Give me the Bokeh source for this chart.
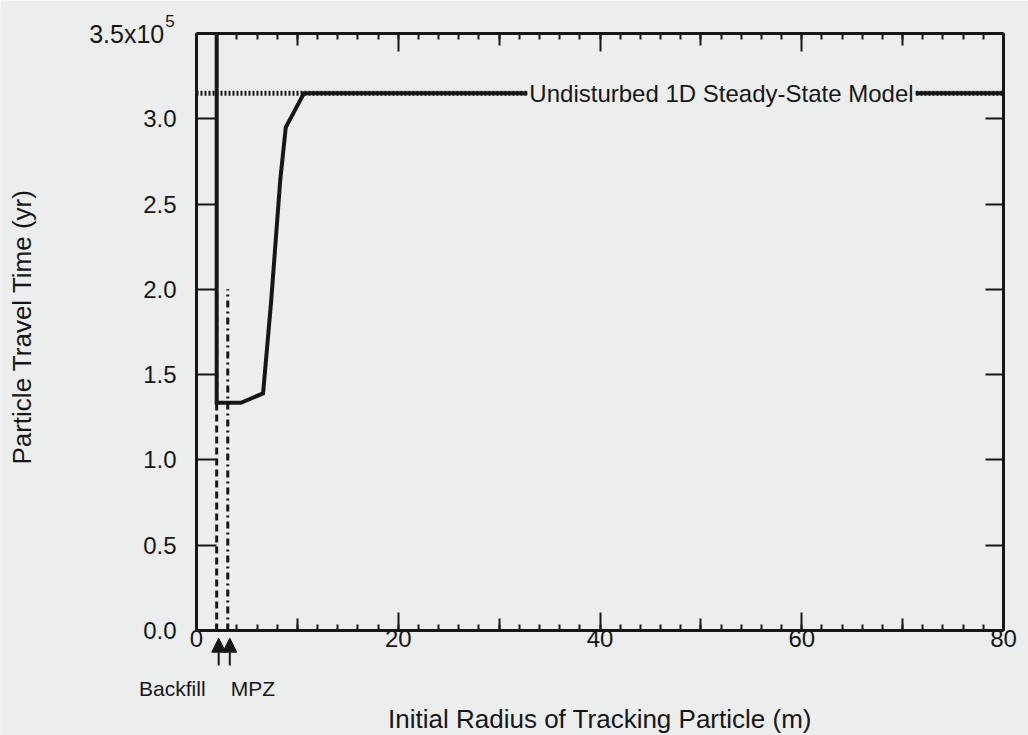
from bokeh.plotting import figure
from bokeh.models import Range1d, LinearAxis, FixedTicker, Label, Arrow, NormalHead
from bokeh.embed import file_html
from bokeh.resources import INLINE

# ---- data (travel time in units of 1e5 yr) ----
model_radius = [2.0, 2.0, 4.4, 6.6, 7.4, 8.3, 8.85, 10.65, 80.0]
model_time = [3.5, 1.335, 1.335, 1.39, 1.93, 2.64, 2.95, 3.15, 3.15]
steady_radius = [0.0, 80.0]
steady_time = [3.15, 3.15]
backfill_r = 2.0
mpz_r = 3.1
boundary_time = [0.0, 2.0]
x_ticks = [0, 20, 40, 60, 80]
x_mid_ticks = [10, 30, 50, 70]
x_minor = [float(v) for v in range(0, 81, 2)]
y_ticks = [0.0, 0.5, 1.0, 1.5, 2.0, 2.5, 3.0, 3.5]
y_tick_labels = ["0.0", "0.5", "1.0", "1.5", "2.0", "2.5", "3.0", ""]
y_top_label = "3.5x10"
y_top_exponent = "5"
steady_label = "Undisturbed 1D Steady-State Model"
x_title = "Initial Radius of Tracking Particle (m)"
y_title = "Particle Travel Time (yr)"

X0, X1, Y0, Y1 = 0.0, 80.0, 0.0, 3.5

BG = "#eceeee"
INK = "#161616"
FONT = "Liberation Sans"

# The frame fills the page; the axes are pinned at the data box so that
# the notes outside it (titles, arrows) can be drawn in data space.
p = figure(width=1028, height=735, output_backend="svg", toolbar_location=None,
           x_range=Range1d(-19.43, 82.478), y_range=Range1d(-0.6156, 3.6935),
           x_axis_location=None, y_axis_location=None,
           min_border=0, min_border_left=0, min_border_right=0,
           min_border_top=0, min_border_bottom=0,
           background_fill_color=BG, border_fill_color=BG)
p.grid.visible = False
p.outline_line_color = None

def make_axis(fixed, ticks, minor, major_in, minor_in, bounds, labels=None, line=True):
    ax = LinearAxis(fixed_location=fixed, bounds=bounds)
    ax.ticker = FixedTicker(ticks=ticks, minor_ticks=minor)
    ax.axis_line_color = INK if line else None
    ax.axis_line_width = 3
    ax.major_tick_in = major_in
    ax.major_tick_out = 0
    ax.minor_tick_in = minor_in
    ax.minor_tick_out = 0
    ax.major_tick_line_width = 2
    ax.minor_tick_line_width = 2
    ax.major_tick_line_color = INK
    ax.minor_tick_line_color = INK
    ax.major_label_text_font = FONT
    ax.major_label_text_color = INK
    ax.major_label_text_font_size = "24px"
    if labels is False:
        ax.major_label_text_alpha = 0
        ax.major_label_text_font_size = "1px"
        ax.major_label_standoff = 0
    elif labels is not None:
        ax.major_label_overrides = labels
    return ax

xa = make_axis(Y0, x_ticks, x_minor, 18, 6, (X0, X1))
xa.major_label_standoff = 0
p.add_layout(xa, "below")
p.add_layout(make_axis(Y0, x_mid_ticks, [], 12, 0, (X0, X1), labels=False, line=False), "below")

ya = make_axis(X0, y_ticks, [], 20, 0, (Y0, Y1),
               labels={t: s for t, s in zip(y_ticks, y_tick_labels)})
ya.major_label_standoff = 20
p.add_layout(ya, "left")

p.add_layout(make_axis(Y1, x_ticks, x_minor, 18, 6, (X0, X1), labels=False), "above")
p.add_layout(make_axis(Y1, x_mid_ticks, [], 12, 0, (X0, X1), labels=False, line=False), "above")
p.add_layout(make_axis(X1, y_ticks, [], 18, 0, (Y0, Y1), labels=False), "right")

# boundary reference lines
p.line([backfill_r, backfill_r], boundary_time, line_color=INK, line_width=3, line_dash="7 4")
p.line([mpz_r, mpz_r], boundary_time, line_color=INK, line_width=3, line_dash="7 4 2 4")

# simulated travel-time curve
p.line(model_radius, model_time, line_color=INK, line_width=4, line_join="miter")

# undisturbed steady-state model (dotted)
p.line(steady_radius, steady_time, line_color=INK, line_width=5, line_dash="2 2")

p.add_layout(Label(x=32.8, y=steady_time[0], text=steady_label, text_align="left",
                   text_baseline="middle", text_font=FONT, text_font_size="24px",
                   text_color=INK, background_fill_color=BG, padding=2))

# top tick label with exponent
p.add_layout(Label(x=-3.2, y=Y1, text=y_top_label, text_align="right", text_baseline="middle",
                   text_font=FONT, text_font_size="25px", text_color=INK))
p.add_layout(Label(x=-3.1, y=Y1 + 0.04, text=y_top_exponent, text_align="left",
                   text_baseline="bottom", text_font=FONT, text_font_size="17px", text_color=INK))

# axis titles
p.add_layout(Label(x=40.0, y=-0.516, text=x_title, text_align="center", text_baseline="middle",
                   text_font=FONT, text_font_size="26px", text_color=INK))
p.add_layout(Label(x=-17.25, y=1.78, text=y_title, text_align="center", text_baseline="middle",
                   angle=90, angle_units="deg",
                   text_font=FONT, text_font_size="26px", text_color=INK))

# arrows and labels below the axis
for r in (backfill_r, mpz_r):
    p.add_layout(Arrow(end=NormalHead(size=14, fill_color=INK, line_color=INK),
                       x_start=r + 0.2, y_start=-0.205, x_end=r + 0.2, y_end=-0.045,
                       line_color=INK, line_width=2))
p.add_layout(Label(x=0.9, y=-0.34, text="Backfill", text_align="right", text_baseline="middle",
                   text_font=FONT, text_font_size="21px", text_color=INK))
p.add_layout(Label(x=3.4, y=-0.34, text="MPZ", text_align="left", text_baseline="middle",
                   text_font=FONT, text_font_size="21px", text_color=INK))

open("out.html", "w").write(file_html(p, INLINE))
